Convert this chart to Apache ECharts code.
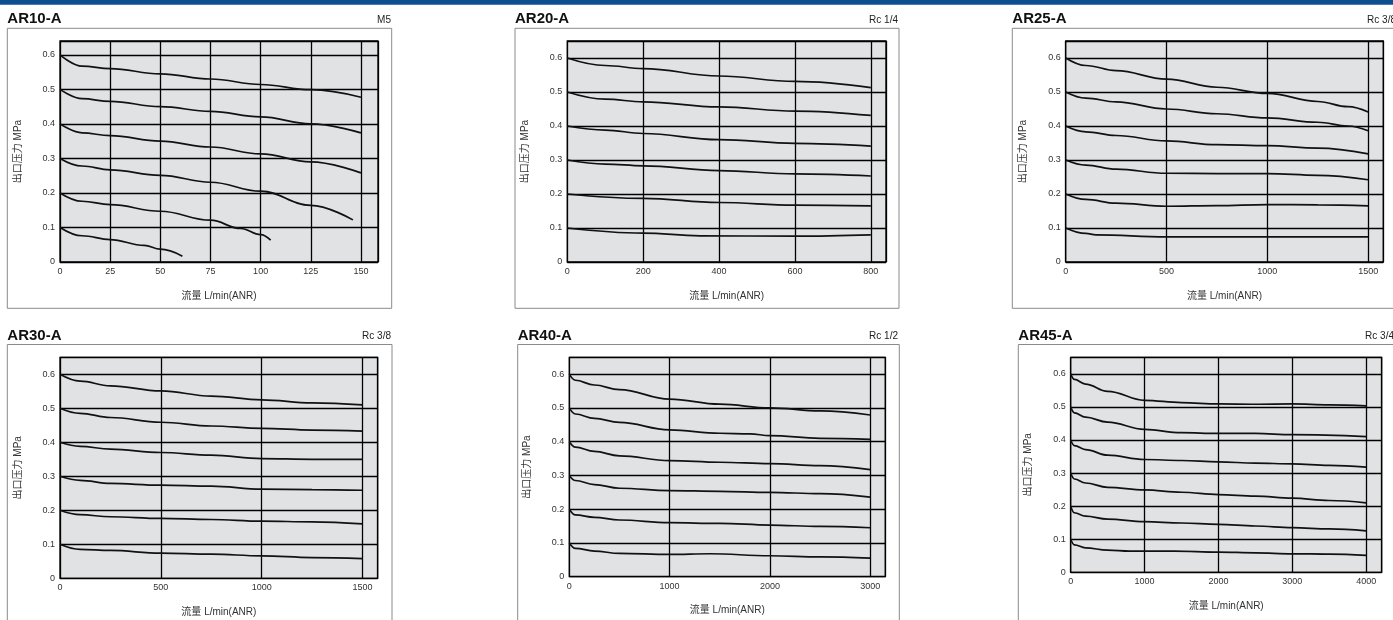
<!DOCTYPE html>
<html>
<head>
<meta charset="utf-8">
<script src="https://cdn.jsdelivr.net/npm/echarts@6/dist/echarts.min.js"></script>
<style>html,body{margin:0;padding:0;background:#fff;}#c{width:1393px;height:620px;}</style>
</head>
<body>
<div id="c"></div>
<script>
// ---- Panel titles ----
const titles = ['AR10-A', 'AR20-A', 'AR25-A', 'AR30-A', 'AR40-A', 'AR45-A'];
const ports = ['M5', 'Rc 1/4', 'Rc 3/8', 'Rc 3/8', 'Rc 1/2', 'Rc 3/4'];
const xName = '流量 L/min(ANR)';
const yName = '出口压力 MPa';

// ---- Tick labels ----
const xTicks1 = [0, 25, 50, 75, 100, 125, 150];
const xTicks2 = [0, 200, 400, 600, 800];
const xTicks3 = [0, 500, 1000, 1500];
const xTicks4 = [0, 500, 1000, 1500];
const xTicks5 = [0, 1000, 2000, 3000];
const xTicks6 = [0, 1000, 2000, 3000, 4000];
const yTicks = [0, 0.1, 0.2, 0.3, 0.4, 0.5, 0.6];
const xMax = [158.5, 840, 1575, 1575, 3150, 4210];
const yMax = [0.64, 0.65, 0.65, 0.65, 0.65, 0.65];

// ---- AR10-A curves [flow, pressure] ----
const ar10_06 = [[0,0.6],[11,0.567],[25,0.56],[50,0.545],[75,0.53],[100,0.514],[125,0.499],[150,0.477]];
const ar10_05 = [[0,0.5],[11,0.473],[25,0.465],[50,0.45],[75,0.436],[100,0.42],[125,0.4],[150,0.374]];
const ar10_04 = [[0,0.4],[11,0.374],[25,0.366],[50,0.35],[75,0.333],[100,0.313],[125,0.29],[150,0.258]];
const ar10_03 = [[0,0.3],[11,0.278],[25,0.267],[50,0.251],[75,0.231],[100,0.205],[125,0.164],[146,0.122]];
const ar10_02 = [[0,0.2],[11,0.176],[25,0.166],[50,0.147],[75,0.121],[90,0.097],[100,0.079],[105,0.063]];
const ar10_01 = [[0,0.1],[11,0.076],[25,0.065],[42,0.048],[50,0.037],[61,0.017]];

// ---- AR20-A ----
const ar20_06 = [[0,0.6],[100,0.578],[200,0.569],[400,0.547],[600,0.531],[800,0.513]];
const ar20_05 = [[0,0.5],[100,0.479],[200,0.471],[400,0.456],[600,0.444],[800,0.431]];
const ar20_04 = [[0,0.4],[100,0.388],[200,0.378],[400,0.36],[600,0.349],[800,0.341]];
const ar20_03 = [[0,0.3],[100,0.288],[200,0.283],[400,0.269],[600,0.259],[800,0.253]];
const ar20_02 = [[0,0.2],[200,0.187],[400,0.175],[600,0.167],[800,0.165]];
const ar20_01 = [[0,0.1],[200,0.085],[350,0.077],[600,0.076],[800,0.08]];

// ---- AR25-A ----
const ar25_06 = [[0,0.6],[100,0.578],[250,0.563],[500,0.538],[750,0.514],[1000,0.496],[1250,0.472],[1400,0.457],[1500,0.441]];
const ar25_05 = [[0,0.5],[100,0.482],[250,0.471],[500,0.45],[750,0.436],[1000,0.424],[1250,0.411],[1400,0.4],[1500,0.386]];
const ar25_04 = [[0,0.4],[100,0.383],[250,0.372],[500,0.356],[750,0.345],[1000,0.342],[1250,0.335],[1500,0.318]];
const ar25_03 = [[0,0.3],[100,0.285],[250,0.273],[500,0.261],[750,0.26],[1000,0.26],[1250,0.255],[1500,0.242]];
const ar25_02 = [[0,0.2],[100,0.184],[250,0.173],[500,0.164],[750,0.166],[1000,0.169],[1250,0.168],[1500,0.165]];
const ar25_01 = [[0,0.1],[100,0.084],[150,0.08],[500,0.074],[1000,0.074],[1500,0.074]];

// ---- AR30-A ----
const ar30_06 = [[0,0.6],[100,0.58],[250,0.566],[500,0.551],[750,0.536],[1000,0.525],[1250,0.516],[1500,0.51]];
const ar30_05 = [[0,0.5],[100,0.485],[250,0.473],[500,0.459],[750,0.448],[1000,0.441],[1250,0.436],[1500,0.433]];
const ar30_04 = [[0,0.4],[100,0.388],[250,0.38],[500,0.37],[750,0.362],[1000,0.352],[1250,0.35],[1500,0.35]];
const ar30_03 = [[0,0.3],[100,0.288],[250,0.279],[500,0.274],[750,0.271],[1000,0.262],[1250,0.261],[1500,0.259]];
const ar30_02 = [[0,0.2],[100,0.187],[250,0.181],[500,0.176],[750,0.173],[1000,0.168],[1250,0.166],[1500,0.16]];
const ar30_01 = [[0,0.1],[100,0.085],[250,0.082],[500,0.074],[750,0.071],[1000,0.066],[1250,0.061],[1500,0.058]];

// ---- AR40-A ----
const ar40_06 = [[0,0.6],[60,0.582],[250,0.568],[500,0.554],[1000,0.526],[1500,0.511],[2000,0.5],[2500,0.491],[3000,0.479]];
const ar40_05 = [[0,0.5],[60,0.482],[250,0.469],[500,0.457],[1000,0.435],[1500,0.425],[1800,0.423],[2000,0.418],[2500,0.41],[3000,0.407]];
const ar40_04 = [[0,0.4],[60,0.384],[250,0.371],[500,0.358],[1000,0.344],[1500,0.339],[2000,0.335],[2500,0.329],[3000,0.317]];
const ar40_03 = [[0,0.3],[60,0.285],[250,0.273],[500,0.262],[1000,0.255],[1500,0.253],[2000,0.25],[2500,0.246],[3000,0.236]];
const ar40_02 = [[0,0.2],[60,0.183],[250,0.176],[500,0.168],[1000,0.16],[1500,0.158],[2000,0.153],[2500,0.149],[3000,0.145]];
const ar40_01 = [[0,0.1],[60,0.084],[250,0.076],[500,0.069],[1000,0.066],[1400,0.068],[2000,0.062],[2500,0.059],[3000,0.055]];

// ---- AR45-A ----
const ar45_06 = [[0,0.6],[50,0.583],[200,0.569],[500,0.547],[1000,0.52],[1500,0.513],[2000,0.509],[2500,0.508],[3000,0.509],[3500,0.506],[4000,0.503]];
const ar45_05 = [[0,0.5],[50,0.482],[200,0.469],[500,0.454],[1000,0.432],[1500,0.422],[2000,0.42],[2500,0.42],[3000,0.416],[4000,0.41]];
const ar45_04 = [[0,0.4],[50,0.383],[200,0.371],[500,0.354],[1000,0.341],[1500,0.338],[2000,0.334],[2500,0.33],[3000,0.328],[3500,0.323],[4000,0.318]];
const ar45_03 = [[0,0.3],[50,0.282],[200,0.27],[500,0.257],[1000,0.249],[1500,0.242],[2000,0.235],[2500,0.23],[3000,0.224],[3500,0.217],[4000,0.21]];
const ar45_02 = [[0,0.2],[50,0.18],[200,0.17],[500,0.161],[1000,0.153],[1500,0.149],[2000,0.145],[2500,0.14],[3000,0.135],[3500,0.131],[4000,0.125]];
const ar45_01 = [[0,0.1],[50,0.083],[200,0.074],[500,0.067],[800,0.064],[1400,0.064],[2000,0.061],[2500,0.059],[3000,0.056],[3500,0.055],[4000,0.051]];

const panelCurves = [
  [ar10_06, ar10_05, ar10_04, ar10_03, ar10_02, ar10_01],
  [ar20_06, ar20_05, ar20_04, ar20_03, ar20_02, ar20_01],
  [ar25_06, ar25_05, ar25_04, ar25_03, ar25_02, ar25_01],
  [ar30_06, ar30_05, ar30_04, ar30_03, ar30_02, ar30_01],
  [ar40_06, ar40_05, ar40_04, ar40_03, ar40_02, ar40_01],
  [ar45_06, ar45_05, ar45_04, ar45_03, ar45_02, ar45_01]
];
const xTickSets = [xTicks1, xTicks2, xTicks3, xTicks4, xTicks5, xTicks6];

// ---- layout (pixels) ----
const grids = [
  {left: 60, top: 41, width: 318, height: 221},
  {left: 567.3, top: 41, width: 318.7, height: 221},
  {left: 1065.7, top: 41, width: 317.6, height: 221},
  {left: 60, top: 357.3, width: 317.7, height: 221},
  {left: 569.3, top: 357.3, width: 316, height: 219.4},
  {left: 1070.7, top: 357.3, width: 311, height: 215}
];
const boxes = [
  {x: 7.3, y: 28.3, w: 384.4, h: 280},
  {x: 515, y: 28.3, w: 384, h: 280},
  {x: 1012.3, y: 28.3, w: 400, h: 280},
  {x: 7.3, y: 344.5, w: 384.7, h: 400},
  {x: 517.7, y: 344.5, w: 381.6, h: 400},
  {x: 1018.3, y: 344.5, w: 400, h: 400}
];
const titleY = [19, 19, 19, 335.5, 335.5, 335.5];
const portRight = [391, 898, 1396, 391, 898, 1394];

const FONT = '"Liberation Sans", Arial, "Noto Sans CJK SC", sans-serif';
const fmt = ticks => v => (ticks.some(t => Math.abs(t - v) < 1e-9) ? String(Math.round(v * 1000) / 1000) : '');

const option = {
  animation: false,
  textStyle: {fontFamily: FONT},
  grid: grids.map(g => ({
    left: g.left, top: g.top, width: g.width, height: g.height,
    show: true, backgroundColor: '#e1e2e4', borderColor: '#000', borderWidth: 1.3, containLabel: false
  })),
  xAxis: grids.map((g, i) => ({
    gridIndex: i, type: 'value', min: 0, max: xMax[i], interval: xTickSets[i][1],
    axisLine: {show: false}, axisTick: {show: false},
    splitLine: {show: true, lineStyle: {color: '#000', width: 1.3}},
    axisLabel: {formatter: fmt(xTickSets[i]), color: '#333', fontSize: 9, margin: 5, fontFamily: FONT},
    name: xName, nameLocation: 'middle', nameGap: 29,
    nameTextStyle: {color: '#333', fontSize: 10, fontFamily: FONT}
  })),
  yAxis: grids.map((g, i) => ({
    gridIndex: i, type: 'value', min: 0, max: yMax[i], interval: 0.1,
    axisLine: {show: false}, axisTick: {show: false},
    splitLine: {show: true, lineStyle: {color: '#000', width: 1.3}},
    axisLabel: {formatter: fmt(yTicks), color: '#333', fontSize: 9, margin: 5, fontFamily: FONT},
    name: yName, nameLocation: 'middle', nameGap: 37,
    nameTextStyle: {color: '#333', fontSize: 10, fontFamily: FONT}
  })),
  series: [],
  graphic: []
};

panelCurves.forEach((curves, i) => {
  curves.forEach(c => {
    option.series.push({
      type: 'line', xAxisIndex: i, yAxisIndex: i, data: c,
      symbol: 'none', showSymbol: false, smooth: 0.4, smoothMonotone: 'x',
      lineStyle: {color: '#111', width: 1.7}, silent: true, z: 5
    });
  });
});

option.graphic.push({type: 'rect', shape: {x: 0, y: 0, width: 1393, height: 4.7}, style: {fill: '#0b4f90'}, silent: true});
boxes.forEach((b, i) => {
  option.graphic.push({type: 'rect', shape: {x: b.x, y: b.y, width: b.w, height: b.h},
    style: {fill: 'none', stroke: '#8a8a8a', lineWidth: 1}, silent: true, z: -1});
  option.graphic.push({type: 'text', x: b.x, y: titleY[i],
    style: {text: titles[i], font: 'bold 15px ' + FONT, fill: '#111', textVerticalAlign: 'middle', textAlign: 'left'}, silent: true});
  option.graphic.push({type: 'text', x: portRight[i], y: titleY[i] + 1,
    style: {text: ports[i], font: '10px ' + FONT, fill: '#222', textVerticalAlign: 'middle', textAlign: 'right'}, silent: true});
});

const chart = echarts.init(document.getElementById('c'), null, {renderer: 'canvas'});
chart.setOption(option);
</script>
</body>
</html>
